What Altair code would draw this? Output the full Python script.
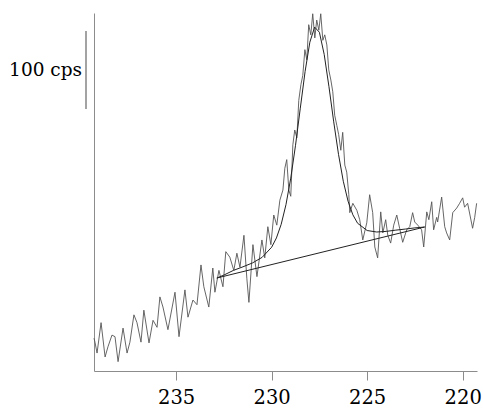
import altair as alt
import pandas as pd

# Measured spectrum (binding energy in eV, intensity in cps above the plot floor)
energy = [239.30, 239.25, 239.14, 238.93, 238.72, 238.57, 238.36, 238.20, 238.04, 237.78,
          237.57, 237.42, 237.21, 237.05, 236.84, 236.69, 236.42, 236.21, 236.00, 235.85,
          235.69, 235.43, 235.06, 234.85, 234.54, 234.38, 234.12, 233.91, 233.70, 233.55,
          233.29, 233.08, 232.97, 232.76, 232.55, 232.40, 232.19, 231.98, 231.82, 231.66,
          231.45, 231.30, 231.19, 230.98, 230.77, 230.51, 230.36, 230.20, 230.04, 229.89,
          229.73, 229.57, 229.41, 229.31, 229.21, 229.10, 229.00, 228.89, 228.79, 228.68,
          228.58, 228.47, 228.37, 228.26, 228.16, 228.06, 227.95, 227.85, 227.74, 227.64,
          227.53, 227.43, 227.32, 227.22, 227.11, 227.01, 226.90, 226.80, 226.70, 226.59,
          226.49, 226.38, 226.28, 226.17, 226.07, 225.96, 225.91, 225.75, 225.54, 225.39,
          225.23, 225.02, 224.87, 224.71, 224.60, 224.45, 224.29, 224.18, 224.03, 223.92,
          223.77, 223.61, 223.45, 223.30, 223.14, 222.93, 222.77, 222.62, 222.51, 222.35,
          222.15, 222.04, 221.88, 221.77, 221.62, 221.52, 221.36, 221.31, 221.10, 220.94,
          220.84, 220.68, 220.52, 220.31, 220.16, 220.00, 219.90, 219.74, 219.48, 219.37,
          219.27]
counts = [42, 37, 23, 62, 18, 31, 46, 44, 12, 55,
          23, 37, 72, 62, 37, 78, 36, 65, 56, 95,
          82, 53, 101, 44, 104, 69, 91, 85, 136, 108,
          82, 132, 101, 129, 108, 153, 146, 129, 151, 133,
          174, 119, 88, 162, 121, 168, 145, 185, 162, 200,
          187, 219, 232, 260, 271, 232, 224, 290, 309, 299,
          347, 367, 379, 412, 399, 444, 431, 458, 427, 450,
          437, 458, 424, 431, 418, 386, 373, 358, 328, 315,
          303, 283, 306, 264, 255, 226, 203, 215, 206, 194,
          168, 190, 226, 203, 159, 145, 204, 177, 194, 174,
          164, 187, 200, 183, 165, 181, 185, 203, 191, 187,
          181, 159, 204, 194, 217, 181, 197, 191, 223, 185,
          177, 168, 203, 209, 215, 222, 210, 215, 183, 197,
          215]

# Fitted peak envelope (peak + background)
fit_energy = [232.87, 232.5, 232.0, 231.5, 231.0, 230.5, 230.0, 229.75, 229.5, 229.25,
              229.0, 228.75, 228.5, 228.25, 228.0, 227.75, 227.5, 227.25, 227.0, 226.75,
              226.5, 226.25, 226.0, 225.75, 225.5, 225.0, 224.5, 224.0, 223.5, 223.0,
              222.5, 221.99]
fit_counts = [119.2, 123, 129, 133.6, 138.6, 145.7, 158.7, 170.6, 188.1, 213.3,
              247.3, 289.4, 337, 383.9, 421.6, 440.9, 434.3, 406, 364.5, 319.4,
              277.8, 243.3, 217.7, 200.3, 189.4, 180.1, 178.2, 179, 180.6, 182,
              183.5, 184.6]

# Linear background
bg_energy = [232.87, 221.99]
bg_counts = [119.2, 184.6]

# Scale bar: 100 cps
bar_low = [336]
bar_high = [436]
bar_label = ["100 cps"]

x_ticks = [235, 230, 225, 220]

SERIF = "DejaVu Serif"

spec = pd.DataFrame({"E": energy, "I": counts})
fit = pd.DataFrame({"E": fit_energy, "I": fit_counts})
bg = pd.DataFrame({"E": bg_energy, "I": bg_counts})
bar = pd.DataFrame({"lo": bar_low, "hi": bar_high, "t": bar_label})

xscale = alt.Scale(domain=[219.25, 239.3], reverse=True, nice=False, zero=False)
yscale = alt.Scale(domain=[0, 459], nice=False, zero=False)

xenc = alt.X("E:Q", scale=xscale,
             axis=alt.Axis(values=x_ticks, title=None, grid=False, tickSize=9,
                           labelFontSize=19.5, labelFont=SERIF,
                           labelColor="#000000", labelPadding=8,
                           domainColor="#8c8c8c", tickColor="#8c8c8c",
                           labelFlush=False))
yenc = alt.Y("I:Q", scale=yscale,
             axis=alt.Axis(title=None, labels=False, ticks=False, grid=False,
                           domainColor="#8c8c8c"))

spec_line = alt.Chart(spec).mark_line(color="#555555", strokeWidth=0.9).encode(
    x=xenc, y=yenc, order="E:Q")
fit_line = alt.Chart(fit).mark_line(color="#222222", strokeWidth=1).encode(
    x=alt.X("E:Q", scale=xscale), y=alt.Y("I:Q", scale=yscale))
bg_line = alt.Chart(bg).mark_line(color="#222222", strokeWidth=1).encode(
    x=alt.X("E:Q", scale=xscale), y=alt.Y("I:Q", scale=yscale))

bar_rule = alt.Chart(bar).mark_rule(color="#8c8c8c", strokeWidth=1.6).encode(
    x=alt.value(-8),
    y=alt.Y("lo:Q", scale=yscale),
    y2="hi:Q")
bar_text = alt.Chart(bar).mark_text(align="right", baseline="alphabetic",
                                    font=SERIF, fontSize=18.5,
                                    color="#000000").encode(
    x=alt.value(-12), y=alt.value(63), text="t:N")

chart = alt.layer(spec_line, fit_line, bg_line, bar_rule, bar_text).properties(
    width=383, height=358,
    padding={"left": 94, "top": 13, "right": 6, "bottom": 37},
    autosize=alt.AutoSizeParams(type="none"),
    background="#ffffff",
).configure(font=SERIF).configure_view(stroke=None)

chart.save("out.html", embed_options={"renderer": "svg", "actions": False})
